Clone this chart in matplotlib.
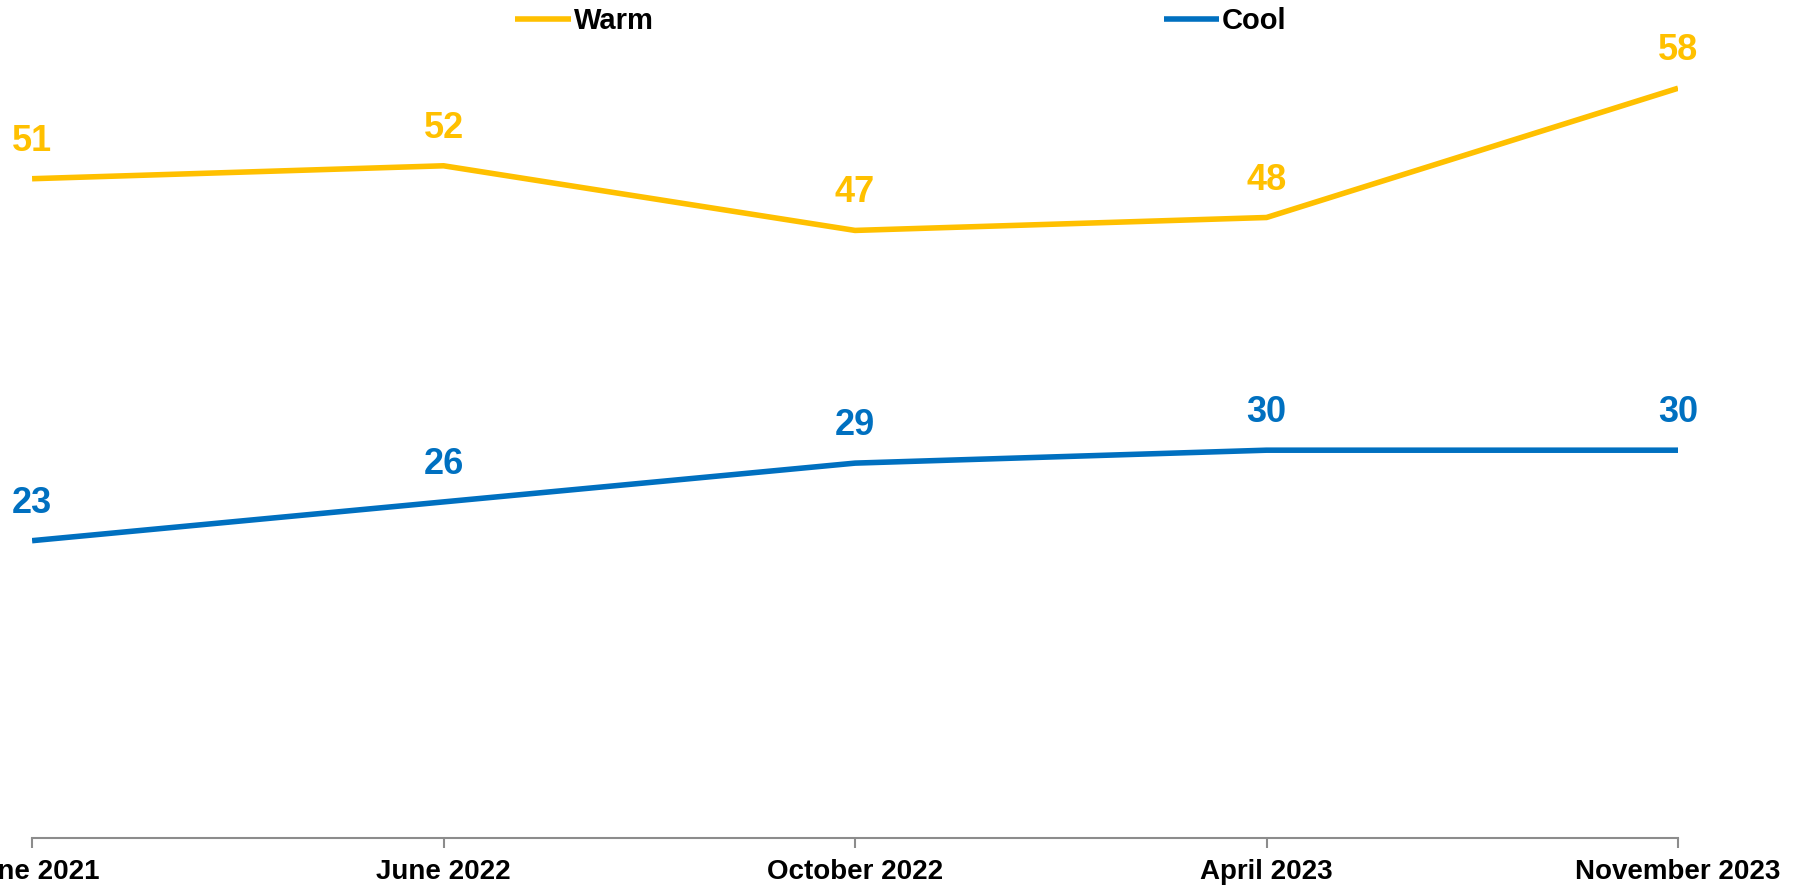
import numpy as np
import matplotlib.pyplot as plt

plt.rcParams['font.family'] = ['Liberation Sans', 'DejaVu Sans']
plt.rcParams['font.weight'] = 'bold'

periods = ['June 2021', 'June 2022', 'October 2022', 'April 2023', 'November 2023']
warm = [51, 52, 47, 48, 58]
cool = [23, 26, 29, 30, 30]

WARM_C = '#FFC000'
COOL_C = '#0070C0'

fig = plt.figure(figsize=(18.02, 8.85), dpi=100)
ax = fig.add_axes([0.0178, 0.0531, 0.9134, 0.8735])

x = np.arange(len(periods))
l1, = ax.plot(x, warm, color=WARM_C, lw=4, solid_capstyle='butt', label='Warm')
l2, = ax.plot(x, cool, color=COOL_C, lw=4, solid_capstyle='butt', label='Cool')

# value labels above each point
for series, col in [(warm, WARM_C), (cool, COOL_C)]:
    for xi, v in zip(x, series):
        ax.annotate(f'{v}', (xi, v), xytext=(0, 27), textcoords='offset points',
                    ha='center', va='center', fontsize=26, fontweight='bold',
                    color=col, annotation_clip=False)

ax.set_xlim(0, 4)
ax.set_ylim(0, 59.8)
ax.set_xticks(x)
ax.set_xticklabels(periods, fontsize=20, fontweight='bold')
ax.set_yticks([])
for s in ['top', 'right', 'left']:
    ax.spines[s].set_visible(False)
ax.spines['bottom'].set_color('#8c8c8c')
ax.spines['bottom'].set_linewidth(1.5)
ax.tick_params(axis='x', direction='out', length=7, width=1.5, color='#8c8c8c', pad=8)

fig.legend(handles=[l1, l2], loc='center', bbox_to_anchor=(0.5, 0.976), ncol=2,
           frameon=False, fontsize=21, handlelength=1.9, handletextpad=0.1,
           columnspacing=17.5, borderaxespad=0)

fig.savefig('out.png', dpi=100)
